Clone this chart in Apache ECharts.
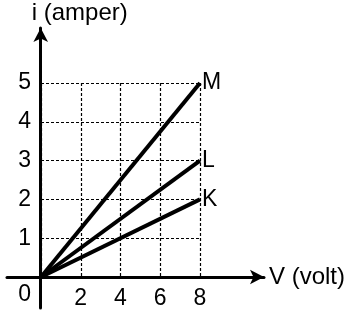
<!doctype html>
<html>
<head>
<meta charset="utf-8">
<script src="https://cdn.jsdelivr.net/npm/echarts@6/dist/echarts.min.js"></script>
<style>
  html, body { margin: 0; padding: 0; background: #fff; }
  #chart { width: 348px; height: 319px; }
</style>
</head>
<body>
<div id="chart"></div>
<script>
// V (volt) values at the two ends of each line
var volts = [0, 8];
// i (amper) for each line
var lineM = [0, 5];
var lineL = [0, 3];
var lineK = [0, 2];
var lineNames = ['M', 'L', 'K'];

var xTicks = [0, 2, 4, 6, 8];
var yTicks = [0, 1, 2, 3, 4, 5];
var xName = 'V (volt)';
var yName = 'i (amper)';

var FONT = 'Liberation Sans, Arial, sans-serif';
var FS = 24;

function pairs(ys) {
  return volts.map(function (v, i) { return [v, ys[i]]; });
}

function lineSeries(name, ys) {
  return {
    name: name,
    type: 'line',
    xAxisIndex: 0,
    yAxisIndex: 0,
    data: pairs(ys),
    showSymbol: false,
    lineStyle: { color: '#000', width: 4 },
    endLabel: {
      show: true,
      formatter: name,
      distance: 2,
      color: '#000',
      fontSize: FS - 1,
      fontFamily: FONT
    },
    z: 5
  };
}

var chart = echarts.init(document.getElementById('chart'));

var option = {
  animation: false,
  backgroundColor: '#fff',
  grid: [
    // dashed grid + labels: 0..8, 0..5
    { left: 41, right: 148, top: 83, bottom: 42 },
    // long axes with arrows
    { left: 7, right: 82, top: 28, bottom: 11 }
  ],
  xAxis: [
    {
      gridIndex: 0,
      type: 'value',
      min: xTicks[0], max: xTicks[xTicks.length - 1], interval: 2,
      axisLine: { show: false },
      axisTick: { show: false },
      splitLine: { show: true, lineStyle: { color: '#000', width: 1.2, type: [3, 2] } },
      axisLabel: {
        margin: 10,
        color: '#000',
        fontSize: FS - 1,
        fontFamily: FONT,
        formatter: function (v) { return v === 0 ? '' : String(v); }
      }
    },
    {
      gridIndex: 1,
      type: 'value',
      min: -1.71, max: 11.32,
      axisLine: {
        show: true, onZero: true,
        symbol: ['none', 'arrow'], symbolSize: [11, 14],
        lineStyle: { color: '#000', width: 3 }
      },
      axisTick: { show: false },
      axisLabel: { show: false },
      splitLine: { show: false },
      name: xName,
      nameLocation: 'end',
      nameGap: 5,
      nameTextStyle: { color: '#000', fontSize: FS, fontFamily: FONT }
    }
  ],
  yAxis: [
    {
      gridIndex: 0,
      type: 'value',
      min: yTicks[0], max: yTicks[yTicks.length - 1], interval: 1,
      axisLine: { show: false },
      axisTick: { show: false },
      splitLine: { show: true, lineStyle: { color: '#000', width: 1.2, type: [3, 2] } },
      axisLabel: {
        margin: 10,
        color: '#000',
        fontSize: FS - 1,
        fontFamily: FONT,
        formatter: function (v) { return v === 0 ? '{z|0}' : String(v); },
        rich: { z: { fontSize: FS - 1, fontFamily: FONT, color: '#000', padding: [36, 0, 0, 0] } }
      }
    },
    {
      gridIndex: 1,
      type: 'value',
      min: -0.8, max: 6.42,
      axisLine: {
        show: true, onZero: true,
        symbol: ['none', 'arrow'], symbolSize: [11, 14],
        lineStyle: { color: '#000', width: 3 }
      },
      axisTick: { show: false },
      axisLabel: { show: false },
      splitLine: { show: false },
      name: yName,
      nameLocation: 'end',
      nameGap: 3,
      nameTextStyle: { color: '#000', fontSize: FS, fontFamily: FONT, align: 'left', padding: [0, 0, 0, -9] }
    }
  ],
  series: [
    lineSeries(lineNames[0], lineM),
    lineSeries(lineNames[1], lineL),
    lineSeries(lineNames[2], lineK)
  ]
};

chart.setOption(option);
</script>
</body>
</html>
